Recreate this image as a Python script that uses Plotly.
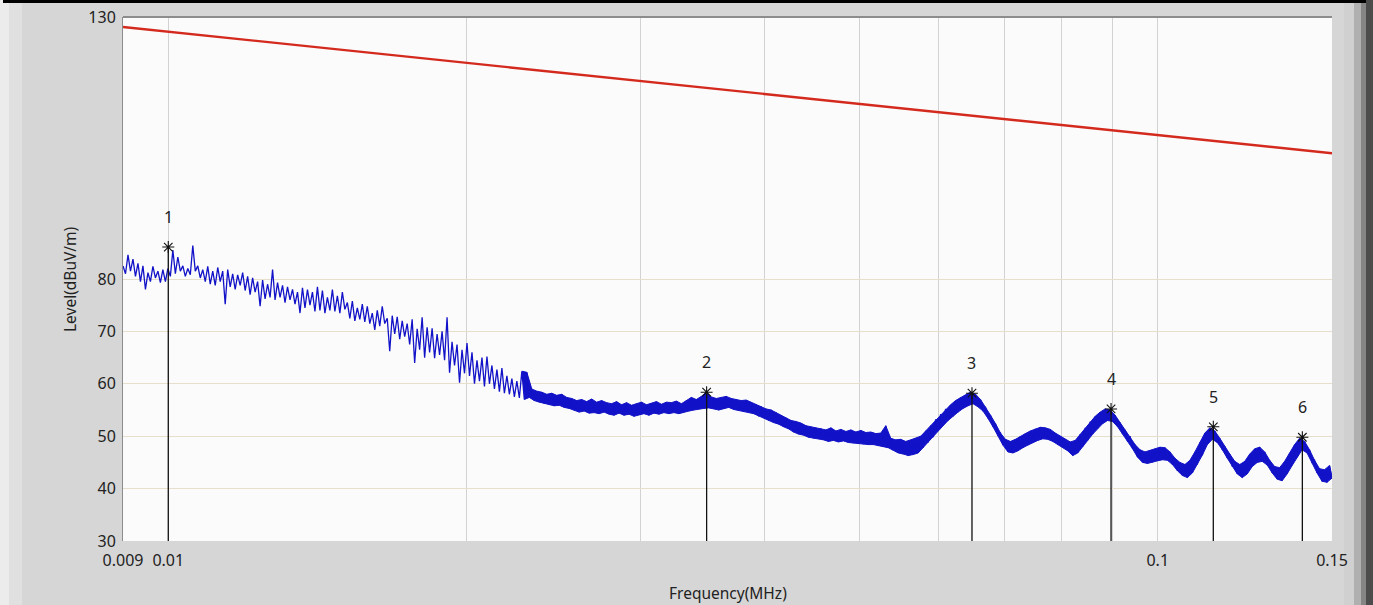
import numpy as np
import plotly.graph_objects as go

# ---------------- data ----------------
freq_start_mhz = 0.009
freq_stop_mhz = 0.15

# measured trace (alternating sweep high / low readings, dBuV/m)
level_hi = [
    82.5, 84.6, 83.8, 83.0, 82.5, 81.2, 82.4, 81.5, 81.8, 82.0,
    85.5, 84.2, 82.5, 82.0, 86.4, 82.5, 81.8, 82.4, 81.5, 82.2,
    81.5, 81.8, 81.0, 80.8, 81.2, 80.5, 80.2, 79.5, 79.8, 79.0,
    81.8, 79.3, 78.8, 78.5, 78.0, 77.5, 78.3, 78.0, 77.5, 78.5,
    77.8, 76.5, 78.0, 76.8, 77.5, 75.5, 75.8, 74.5, 75.2, 74.8,
    73.5, 74.0, 74.8, 72.5, 73.0, 72.8, 72.0, 71.5, 72.3, 70.5,
    72.7, 70.8, 70.6, 69.5, 70.0, 72.7, 68.0, 67.5, 66.5, 67.8,
    66.0, 64.5, 65.0, 65.2, 63.5, 62.7, 63.0, 61.5, 61.0, 60.5,
    62.4, 62.2, 59.0, 58.6, 58.4, 58.0, 58.2, 57.8, 58.0, 57.4,
    57.2, 56.8, 57.0, 56.6, 57.1, 56.5, 56.8, 56.4, 56.2, 56.6,
    56.0, 56.4, 55.9, 56.2, 56.5, 56.0, 56.3, 56.6, 56.1, 56.5,
    56.4, 56.7, 56.2, 56.8, 57.4, 57.0, 57.6, 58.4, 57.5, 57.2,
    57.4, 57.6, 57.2, 57.0, 56.8, 56.9, 56.5, 56.0, 55.7, 55.2,
    55.0, 54.5, 54.0, 53.5, 53.0, 52.8, 52.5, 52.0, 51.8, 51.6,
    51.5, 51.2, 51.6, 51.0, 51.3, 50.9, 51.2, 50.8, 51.1, 50.7,
    50.8, 50.5, 50.6, 52.0, 49.6, 49.3, 49.4, 49.0, 49.3, 49.6,
    50.0, 51.0, 52.0, 53.2, 54.2, 55.2, 56.0, 56.8, 57.4, 57.9,
    58.4, 58.0, 57.0, 55.6, 54.0, 52.4, 50.6, 49.4, 49.0, 49.4,
    50.0, 50.5, 51.0, 51.4, 51.7, 51.6, 51.3, 50.6, 50.0, 49.4,
    48.9, 49.2, 50.4, 51.6, 52.8, 53.8, 54.6, 55.2, 55.0, 54.0,
    52.6, 51.2, 50.0, 48.4, 47.4, 47.0, 47.3, 47.6, 47.9, 47.8,
    47.0, 45.8, 45.0, 44.6, 45.4, 47.0, 48.8, 50.6, 51.6, 51.0,
    49.6, 48.0, 46.6, 45.2, 44.6, 45.2, 46.6, 47.6, 47.9, 47.0,
    45.4, 44.2, 44.0, 45.2, 46.8, 48.4, 49.6, 49.0, 47.4, 45.4,
    43.8, 43.6, 44.4,
]
level_lo = [
    81.0, 81.5, 80.5, 79.5, 78.0, 79.5, 80.2, 79.3, 79.5, 80.5,
    81.0, 81.5, 80.5, 80.8, 81.5, 80.2, 79.5, 79.0, 78.8, 79.5,
    75.2, 78.5, 78.0, 78.8, 77.8, 77.0, 77.5, 74.8, 76.2, 76.5,
    76.0, 76.5, 75.5, 76.0, 75.2, 73.5, 74.5, 75.0, 73.8, 74.0,
    73.5, 74.0, 73.8, 73.5, 74.2, 72.5, 72.0, 72.3, 71.8, 71.5,
    70.3, 71.0, 71.5, 66.2, 69.5, 68.5, 69.0, 67.5, 64.0, 66.5,
    65.0, 66.0, 64.9, 65.5, 64.5, 62.1, 63.5, 60.2, 62.0, 61.5,
    60.0, 60.5, 59.5, 60.0, 59.0, 58.5, 58.2, 58.0, 57.5, 57.3,
    57.0, 57.4, 56.8, 56.5, 56.2, 56.0, 55.8, 55.9, 55.5, 55.3,
    55.0, 54.6, 54.8, 54.4, 54.5, 54.3, 54.6, 54.2, 54.0, 54.4,
    54.0, 54.2, 53.8, 54.1, 54.3, 54.0, 54.4, 54.2, 54.5, 54.3,
    54.5, 54.3, 54.6, 54.8, 55.0, 55.2, 55.3, 55.4, 55.2, 55.0,
    55.3, 55.5, 55.1, 54.9, 54.7, 54.5, 54.3, 53.8, 53.5, 53.0,
    52.6, 52.3, 51.8, 51.4, 50.8, 50.4, 50.2, 49.8, 49.6, 49.5,
    49.3, 49.0, 49.2, 48.9, 49.1, 48.8, 48.7, 48.6, 48.5, 48.4,
    48.4, 48.2, 48.0, 47.8, 47.3, 46.8, 46.6, 46.3, 46.5, 46.8,
    47.8, 48.8, 49.8, 51.0, 52.0, 53.0, 53.8, 54.6, 55.3, 55.8,
    56.2, 55.6, 54.8, 53.4, 51.8, 50.2, 48.3, 47.0, 46.8, 47.2,
    47.8, 48.3, 48.8, 49.2, 49.5, 49.4, 49.0, 48.4, 47.8, 47.2,
    46.3, 46.8, 48.0, 49.2, 50.4, 51.5, 52.4, 53.0, 52.8, 51.8,
    50.4, 49.0, 47.6, 46.0, 45.0, 44.8, 45.0, 45.3, 45.5, 45.4,
    44.6, 43.4, 42.5, 42.1, 43.0, 44.6, 46.4, 48.4, 49.4, 48.8,
    47.4, 45.8, 44.2, 42.8, 42.1, 42.8, 44.2, 45.0, 45.2, 44.5,
    43.0, 41.8, 41.5, 42.8, 44.4, 46.0, 47.4, 46.8, 45.0, 43.0,
    41.4, 41.2, 42.0,
]

# limit line (dBuV/m)
limit_freq = [0.009, 0.15]
limit_level = [128.1, 104.0]

# peak markers
marker_id = ["1", "2", "3", "4", "5", "6"]
marker_freq = [0.0100, 0.0350, 0.0649, 0.0897, 0.1138, 0.1400]
marker_level = [86.1, 58.4, 58.2, 55.2, 51.8, 49.8]

# axis ticks
y_tickvals = [30, 40, 50, 60, 70, 80, 130]
x_tickvals = [0.009, 0.01, 0.02, 0.03, 0.04, 0.05, 0.06, 0.07, 0.08, 0.09, 0.1, 0.15]
x_ticktext = ["0.009", "0.01", "", "", "", "", "", "", "", "", "0.1", "0.15"]

# dense-band section of the sweep starts here (pair index)
band_start_pair = 80

# ---------------- build trace ----------------
trace_level = []
for hi, lo in zip(level_hi, level_lo):
    trace_level.extend([hi, lo])
trace_freq = np.geomspace(freq_start_mhz, freq_stop_mhz, len(trace_level))
f_hi = trace_freq[0::2]
f_lo = trace_freq[1::2]

FONT = "Noto Sans"
BLUE = "#1212c8"
fig = go.Figure()

# filled band for the dense part of the sweep
bx = list(f_hi[band_start_pair:]) + list(f_lo[band_start_pair:][::-1])
by = list(level_hi[band_start_pair:]) + list(level_lo[band_start_pair:][::-1])
fig.add_trace(go.Scatter(
    x=bx, y=by, mode="lines", fill="toself", fillcolor=BLUE,
    line=dict(color=BLUE, width=1), hoverinfo="skip", showlegend=False))

fig.add_trace(go.Scatter(
    x=trace_freq, y=trace_level, mode="lines",
    line=dict(color=BLUE, width=1.3), showlegend=False))

fig.add_trace(go.Scatter(
    x=limit_freq, y=limit_level, mode="lines",
    line=dict(color="#d42a1e", width=2.4), hoverinfo="skip", showlegend=False))

# vertical marker lines
vx, vy = [], []
for f, l in zip(marker_freq, marker_level):
    vx += [f, f, None]
    vy += [l, 30, None]
fig.add_trace(go.Scatter(
    x=vx, y=vy, mode="lines", line=dict(color="#111111", width=1.3),
    showlegend=False, hoverinfo="skip"))

fig.add_trace(go.Scatter(
    x=marker_freq, y=marker_level, mode="markers",
    marker=dict(symbol="asterisk-open", size=10, color="#111111",
                line=dict(color="#111111", width=1.1)),
    showlegend=False))

for mid, f, l in zip(marker_id, marker_freq, marker_level):
    fig.add_annotation(x=np.log10(f), y=l, text=mid, showarrow=False,
                       yshift=30, font=dict(family=FONT, size=16, color="#222222"))

# frame geometry (window chrome)
W, H = 1373, 605
L_M, R_M, T_M, B_M = 123, 41, 17, 64
pw = W - L_M - R_M
ph = H - T_M - B_M


def px(x):
    return (x - L_M) / pw


def py(y):
    return 1 - (y - T_M) / ph


# axis titles
fig.add_annotation(xref="paper", yref="paper", x=0.5, y=py(593), yanchor="middle",
                   text="Frequency(MHz)", showarrow=False,
                   font=dict(family=FONT, size=15.5, color="#222222"))
fig.add_annotation(xref="paper", yref="paper", x=px(70), y=0.5, textangle=-90,
                   xanchor="center", text="Level(dBuV/m)", showarrow=False,
                   font=dict(family=FONT, size=15.5, color="#222222"))

shapes = [
    dict(type="rect", xref="paper", yref="paper", x0=px(0), x1=px(9), y0=-1, y1=2,
         fillcolor="#ececec", line=dict(width=0), layer="below"),
    dict(type="rect", xref="paper", yref="paper", x0=px(9), x1=px(22), y0=-1, y1=2,
         fillcolor="#e0e0e0", line=dict(width=0), layer="below"),
    dict(type="rect", xref="paper", yref="paper", x0=px(1344), x1=px(1354), y0=-1, y1=2,
         fillcolor="#d0d0d0", line=dict(width=0), layer="below"),
    dict(type="rect", xref="paper", yref="paper", x0=px(1354), x1=px(1361), y0=-1, y1=2,
         fillcolor="#b0b0b0", line=dict(width=0), layer="below"),
    dict(type="rect", xref="paper", yref="paper", x0=px(1361), x1=px(1366), y0=-1, y1=2,
         fillcolor="#858585", line=dict(width=0), layer="below"),
    dict(type="rect", xref="paper", yref="paper", x0=px(1366), x1=px(1374), y0=-1, y1=2,
         fillcolor="#4c4c4c", line=dict(width=0), layer="below"),
    dict(type="line", xref="paper", yref="paper", x0=px(3), x1=px(1366),
         y0=py(1.5), y1=py(1.5),
         line=dict(color="#000000", width=3), layer="below"),
    dict(type="line", xref="paper", yref="paper", x0=0, x1=1, y0=1, y1=1,
         line=dict(color="#8c8c8c", width=2)),
]

fig.update_layout(
    width=W, height=H,
    margin=dict(l=L_M, r=R_M, t=T_M, b=B_M, pad=0, autoexpand=False),
    paper_bgcolor="#d6d6d6",
    plot_bgcolor="#fbfbfb",
    font=dict(family=FONT, size=16, color="#222222"),
    shapes=shapes,
    xaxis=dict(
        type="log", range=[np.log10(freq_start_mhz), np.log10(freq_stop_mhz)],
        tickvals=x_tickvals, ticktext=x_ticktext, ticks="",
        showgrid=True, gridcolor="#d2d2d2", gridwidth=1,
        zeroline=False, showline=False, automargin=False,
        ticklabelstandoff=8,
        tickfont=dict(family=FONT, size=16, color="#222222"),
    ),
    yaxis=dict(
        range=[30, 130], tickvals=y_tickvals, ticks="",
        showgrid=True, gridcolor="#e6dfcc", gridwidth=1,
        zeroline=False, showline=True, linecolor="#8c8c8c", linewidth=1,
        automargin=False, ticklabelstandoff=3,
        tickfont=dict(family=FONT, size=16, color="#222222"),
    ),
)

fig.write_html(
    "out.html",
    config={"displayModeBar": False},
    post_script="document.body.style.margin='0';document.body.style.padding='0';"
                "document.body.style.overflow='hidden';",
)
